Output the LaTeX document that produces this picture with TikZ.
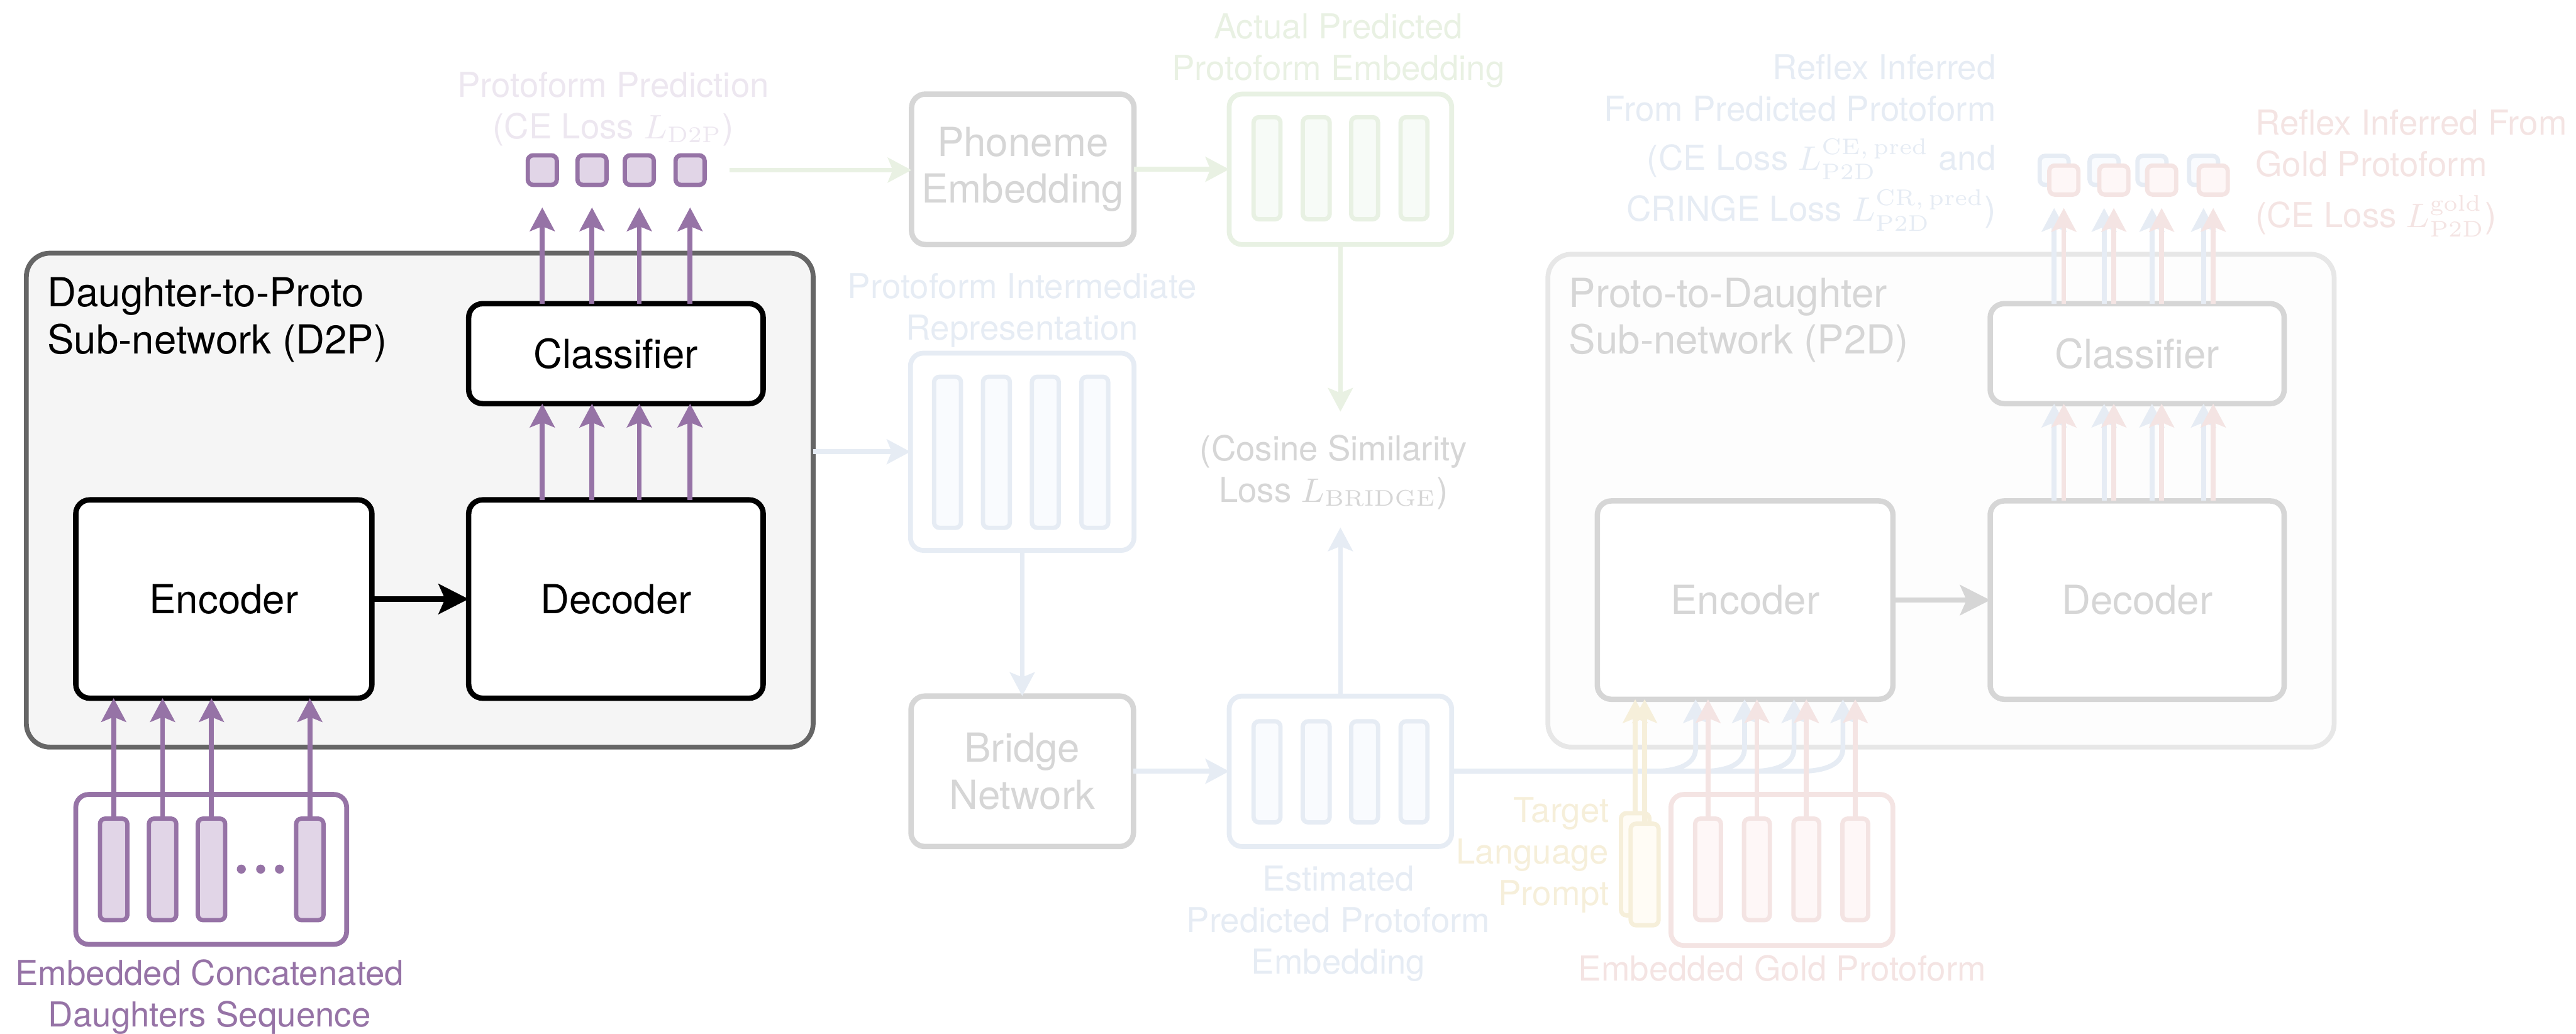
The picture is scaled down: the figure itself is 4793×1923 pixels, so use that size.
\documentclass[tikz,border=0pt]{standalone}
\usepackage[no-math]{fontspec}
\setmainfont{TeX Gyre Heros}
\usepackage{amsmath}
\usetikzlibrary{arrows.meta}

\definecolor{pstroke}{HTML}{9673A6}
\definecolor{pfill}{HTML}{E1D5E7}
\definecolor{gstroke}{HTML}{82B366}
\definecolor{gfill}{HTML}{D5E8D4}
\definecolor{bstroke}{HTML}{6C8EBF}
\definecolor{bfill}{HTML}{DAE8FC}
\definecolor{ystroke}{HTML}{D6B656}
\definecolor{yfill}{HTML}{FFF2CC}
\definecolor{rstroke}{HTML}{B85450}
\definecolor{rfill}{HTML}{F8CECC}
\definecolor{kstroke}{HTML}{666666}
\definecolor{kfill}{HTML}{F5F5F5}
% faded parts
\colorlet{fgray}{black!16!white}
\colorlet{fk}{kstroke!16!white}
\colorlet{fkfill}{kfill!16!white}
\colorlet{fpurple}{pstroke!17!white}
\colorlet{fgreen}{gstroke!18!white}
\colorlet{fgreenfill}{gfill!18!white}
\colorlet{fblue}{bstroke!17!white}
\colorlet{fbluefill}{bfill!17!white}
\colorlet{fyellow}{ystroke!22!white}
\colorlet{fyellowfill}{yfill!20!white}
\colorlet{fred}{rstroke!16!white}
\colorlet{fredfill}{rfill!16!white}

\tikzset{
    px/.style 2 args={minimum width=#1*0.005cm, minimum height=#2*0.005cm},
    bigtxt/.style={font=\fontsize{10.6}{12.4}\selectfont},
    lbl/.style={font=\fontsize{9.1}{11}\selectfont, inner sep=0pt, align=center},
    module/.style={draw=black, fill=white, line width=0.05cm, rounded corners=0.13cm,
        inner sep=0pt, outer sep=0pt, bigtxt, align=center},
    fmodule/.style={module, draw=fgray, text=fgray},
    subnet/.style={draw=kstroke, fill=kfill, line width=0.045cm, rounded corners=0.22cm,
        inner sep=0pt, outer sep=0pt},
    holder/.style={draw=#1, fill=white, line width=0.045cm, rounded corners=0.12cm,
        inner sep=0pt, outer sep=0pt},
    vec/.style 2 args={draw=#1, fill=#2, line width=0.04cm, rounded corners=0.05cm,
        inner sep=0pt, outer sep=0pt},
    flow/.style={line width=0.045cm, -{Stealth[length=0.22cm, width=0.23cm, inset=0.045cm]}},
    bigtip/.style={-{Stealth[length=0.28cm, width=0.28cm, inset=0.06cm]}}
}

\begin{document}
\begin{tikzpicture}[x=0.005cm, y=-0.005cm]
    \useasboundingbox (0,0) rectangle (4793,1923);

    % daughter-to-proto
    \node[subnet, px={1464}{919}] (d2p) at (781,930.5) {};
    \node[bigtxt, inner sep=0pt, anchor=north west, align=left] (d2ptitle) at (87,515) {Daughter-to-Proto\\Sub-network (D2P)};
    \node[module, px={548}{186}] (cls) at (1146,658) {Classifier};
    \node[module, px={551}{369}] (enc) at (416.5,1114.5) {Encoder};
    \node[module, px={548}{369}] (dec) at (1146,1114.5) {Decoder};
    \draw[flow, bigtip, line width=0.05cm] (enc) -- (dec);

    \node[holder=pstroke, px={504}{279}] (din) at (393,1617.5) {};
    \foreach \i/\x in {1/211.5, 2/302.5, 3/393.5, 4/576.5} {
        \node[vec={pstroke}{pfill}, px={51}{189}] (din\i) at (\x,1617.5) {};
        \draw[flow, pstroke] (din\i.north) -- (din\i.north |- enc.south);
    }
    \foreach \x in {449,485,520}
        \fill[pstroke] (\x,1617) circle[radius=0.042cm];
    \node[lbl, text=pstroke, anchor=north] (dinlbl) at (390,1784) {Embedded Concatenated\\Daughters Sequence};

    \foreach \i/\x in {1/1009, 2/1101.5, 3/1189.5, 4/1284} {
        \node[vec={pstroke}{pfill}, px={54}{55}] (out\i) at (\x,316.5) {};
        \draw[flow, pstroke] (out\i |- dec.north) -- (out\i |- cls.south);
        \draw[flow, pstroke, shorten >=0.21cm] (out\i |- cls.north) -- (out\i.south);
    }
    \node[lbl, text=fpurple, anchor=north] (outlbl) at (1141,133) {Protoform Prediction\\(CE Loss $L_{\mathrm{D2P}}$)};

    % actual embedding
    \node[fmodule, px={414}{280}] (phon) at (1903,315) {Phoneme\\Embedding};
    \node[holder=fgreen, px={414}{280}] (act) at (2494,315) {};
    \foreach \i/\x in {1/2357.5, 2/2449, 3/2539, 4/2631}
        \node[vec={fgreen}{fgreenfill}, px={50}{190}] (act\i) at (\x,313) {};
    \node[lbl, text=fgreen, anchor=north] (actlbl) at (2490,24) {Actual Predicted\\Protoform Embedding};
    \draw[flow, fgreen, shorten <=0.23cm] (out4) -- (out4 -| phon.west);
    \draw[flow, fgreen] (phon) -- (act);

    \node[lbl, text=fgray, anchor=north] (cos) at (2481,808) {(Cosine Similarity\\Loss $L_{\mathrm{BRIDGE}}$)};
    \draw[flow, fgreen, shorten >=0.21cm] (act.south) -- (act.south |- cos.north);

    % bridge
    \node[holder=fblue, px={416}{367}] (inter) at (1902,840.5) {};
    \foreach \i/\x in {1/1763, 2/1854, 3/1945, 4/2037}
        \node[vec={fblue}{fbluefill}, px={50}{281}] (inter\i) at (\x,841.5) {};
    \node[lbl, text=fblue, anchor=north] (interlbl) at (1902,507) {Protoform Intermediate\\Representation};
    \draw[flow, fblue] (d2p.east |- inter.west) -- (inter.west);

    \node[fmodule, px={414}{280}] (bridge) at (1902,1435) {Bridge\\Network};
    \draw[flow, fblue] (inter) -- (bridge);
    \node[holder=fblue, px={414}{280}] (est) at (2494,1435) {};
    \foreach \i/\x in {1/2357.5, 2/2449, 3/2539, 4/2631}
        \node[vec={fblue}{fbluefill}, px={50}{188}] (est\i) at (\x,1436) {};
    \node[lbl, text=fblue, anchor=north] (estlbl) at (2490,1610) {Estimated\\Predicted Protoform\\Embedding};
    \draw[flow, fblue] (bridge) -- (est);
    \draw[flow, fblue, shorten >=0.16cm] (est.north) -- (est.north |- cos.south);

    % proto-to-daughter
    \node[subnet, draw=fk, fill=fkfill, px={1463}{917}] (p2d) at (3611.5,931.5) {};
    \node[bigtxt, text=fgray, inner sep=0pt, anchor=north west, align=left] (p2dtitle) at (2918,516) {Proto-to-Daughter\\Sub-network (P2D)};
    \node[fmodule, px={547}{186}] (pcls) at (3976.5,658) {Classifier};
    \node[fmodule, px={550}{369}] (penc) at (3247,1116.5) {Encoder};
    \node[fmodule, px={547}{369}] (pdec) at (3976.5,1116.5) {Decoder};
    \draw[flow, bigtip, fgray, line width=0.05cm] (penc) -- (pdec);

    \foreach \i/\x in {1/3822, 2/3915, 3/4004, 4/4100} {
        \node[vec={fblue}{fbluefill}, px={54}{54}] (pout\i) at (\x,317) {};
        \draw[flow, fblue] (pout\i |- pdec.north) -- (pout\i |- pcls.south);
        \draw[flow, fblue, shorten >=0.215cm] (pout\i |- pcls.north) -- (pout\i.south);
    }
    \foreach \i/\x in {1/3840, 2/3933, 3/4022, 4/4118} {
        \node[vec={fred}{fredfill}, px={54}{54}] (gout\i) at (\x,335) {};
        \draw[flow, fred] (gout\i |- pdec.north) -- (gout\i |- pcls.south);
        \draw[flow, fred, shorten >=0.125cm] (gout\i |- pcls.north) -- (gout\i.south);
    }
    \node[lbl, text=fblue, anchor=north east, align=right] (predlbl) at (3715,100) {Reflex Inferred\\From Predicted Protoform\\[0.07cm](CE Loss $L^{\mathrm{CE,\,pred}}_{\mathrm{P2D}}$ and\\[0.09cm]CRINGE Loss $L^{\mathrm{CR,\,pred}}_{\mathrm{P2D}}$)};
    \node[lbl, text=fred, anchor=north west, align=left] (goldoutlbl) at (4195,203) {Reflex Inferred From\\Gold Protoform\\[0.085cm](CE Loss $L^{\mathrm{gold}}_{\mathrm{P2D}}$)};

    % inputs of the encoder
    \foreach \x in {3155, 3246, 3338, 3429}
        \draw[flow, fblue] (est.east) -- (\x-80,1435) to[out=0, in=-90] (\x,1392) -- (penc.south -| \x,0);

    \node[holder=fred, px={413}{281}] (gold) at (3315.5,1618.5) {};
    \foreach \i/\x in {1/3178, 2/3269, 3/3361, 4/3452} {
        \node[vec={fred}{fredfill}, px={48}{189}] (gold\i) at (\x,1617.5) {};
        \draw[flow, fred] (gold\i.north) -- (gold\i.north |- penc.south);
    }
    \node[lbl, text=fred, anchor=north] (goldlbl) at (3316,1776) {Embedded Gold Protoform};

    \node[vec={fyellow}{fyellowfill}, px={53}{190}] (tlp1) at (3042.5,1608) {};
    \node[vec={fyellow}{fyellowfill}, px={52}{189}] (tlp2) at (3060,1627) {};
    \draw[flow, fyellow] (tlp1.north) -- (tlp1.north |- penc.south);
    \draw[flow, fyellow] (tlp2.north) -- (tlp2.north |- penc.south);
    \node[lbl, text=fyellow, anchor=north east, align=right] (tlplbl) at (2995,1482) {Target\\Language\\Prompt};
\end{tikzpicture}
\end{document}
